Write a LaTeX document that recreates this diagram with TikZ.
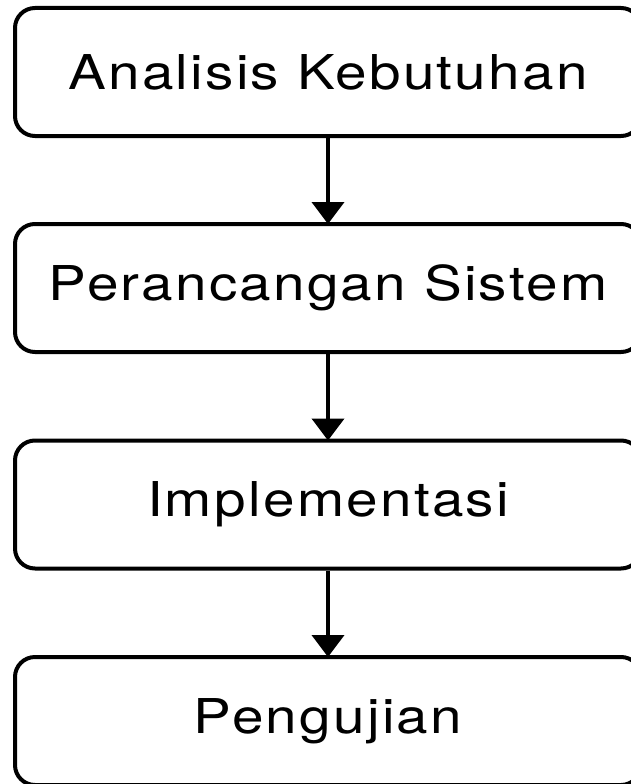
\documentclass[tikz,border=0pt]{standalone}
\usepackage{fontspec}
\setmainfont{TeX Gyre Heros}[LetterSpace=4]
\usetikzlibrary{arrows.meta}
\newcommand{\widetxt}[1]{\scalebox{1.18}[1]{#1}}
\begin{document}
\begin{tikzpicture}[x=1pt,y=1pt,
  stagebox/.style={draw=black, line width=4pt, rounded corners=20pt, minimum width=626pt, minimum height=128pt, inner sep=0pt, fill=white},
  stagetext/.style={font=\fontsize{48}{54}\selectfont, inner sep=0pt},
  flow/.style={line width=4pt, -{Triangle[width=32pt,length=22pt]}, shorten >=-2pt}]
\useasboundingbox (0,0) rectangle (631,-784);
\clip (0,0) rectangle (631,-784);
\fill[white] (0,0) rectangle (631,-784);
\node[stagebox] (a) at (328,-72) {};
\node[stagebox] (b) at (328,-288) {};
\node[stagebox] (c) at (328,-504.5) {};
\node[stagebox] (d) at (328,-721) {};
\node[stagetext] (ta) at (a.center) {\widetxt{Analisis Kebutuhan}};
\node[stagetext] (tb) at (b.center) {\widetxt{Perancangan Sistem}};
\node[stagetext] (tc) at (c.center) {\widetxt{Implementasi}};
\node[stagetext] (td) at (d.center) {\widetxt{Pengujian}};
\draw[flow] (a.south) -- (b.north);
\draw[flow] (b.south) -- (c.north);
\draw[flow] (c.south) -- (d.north);
\end{tikzpicture}
\end{document}
